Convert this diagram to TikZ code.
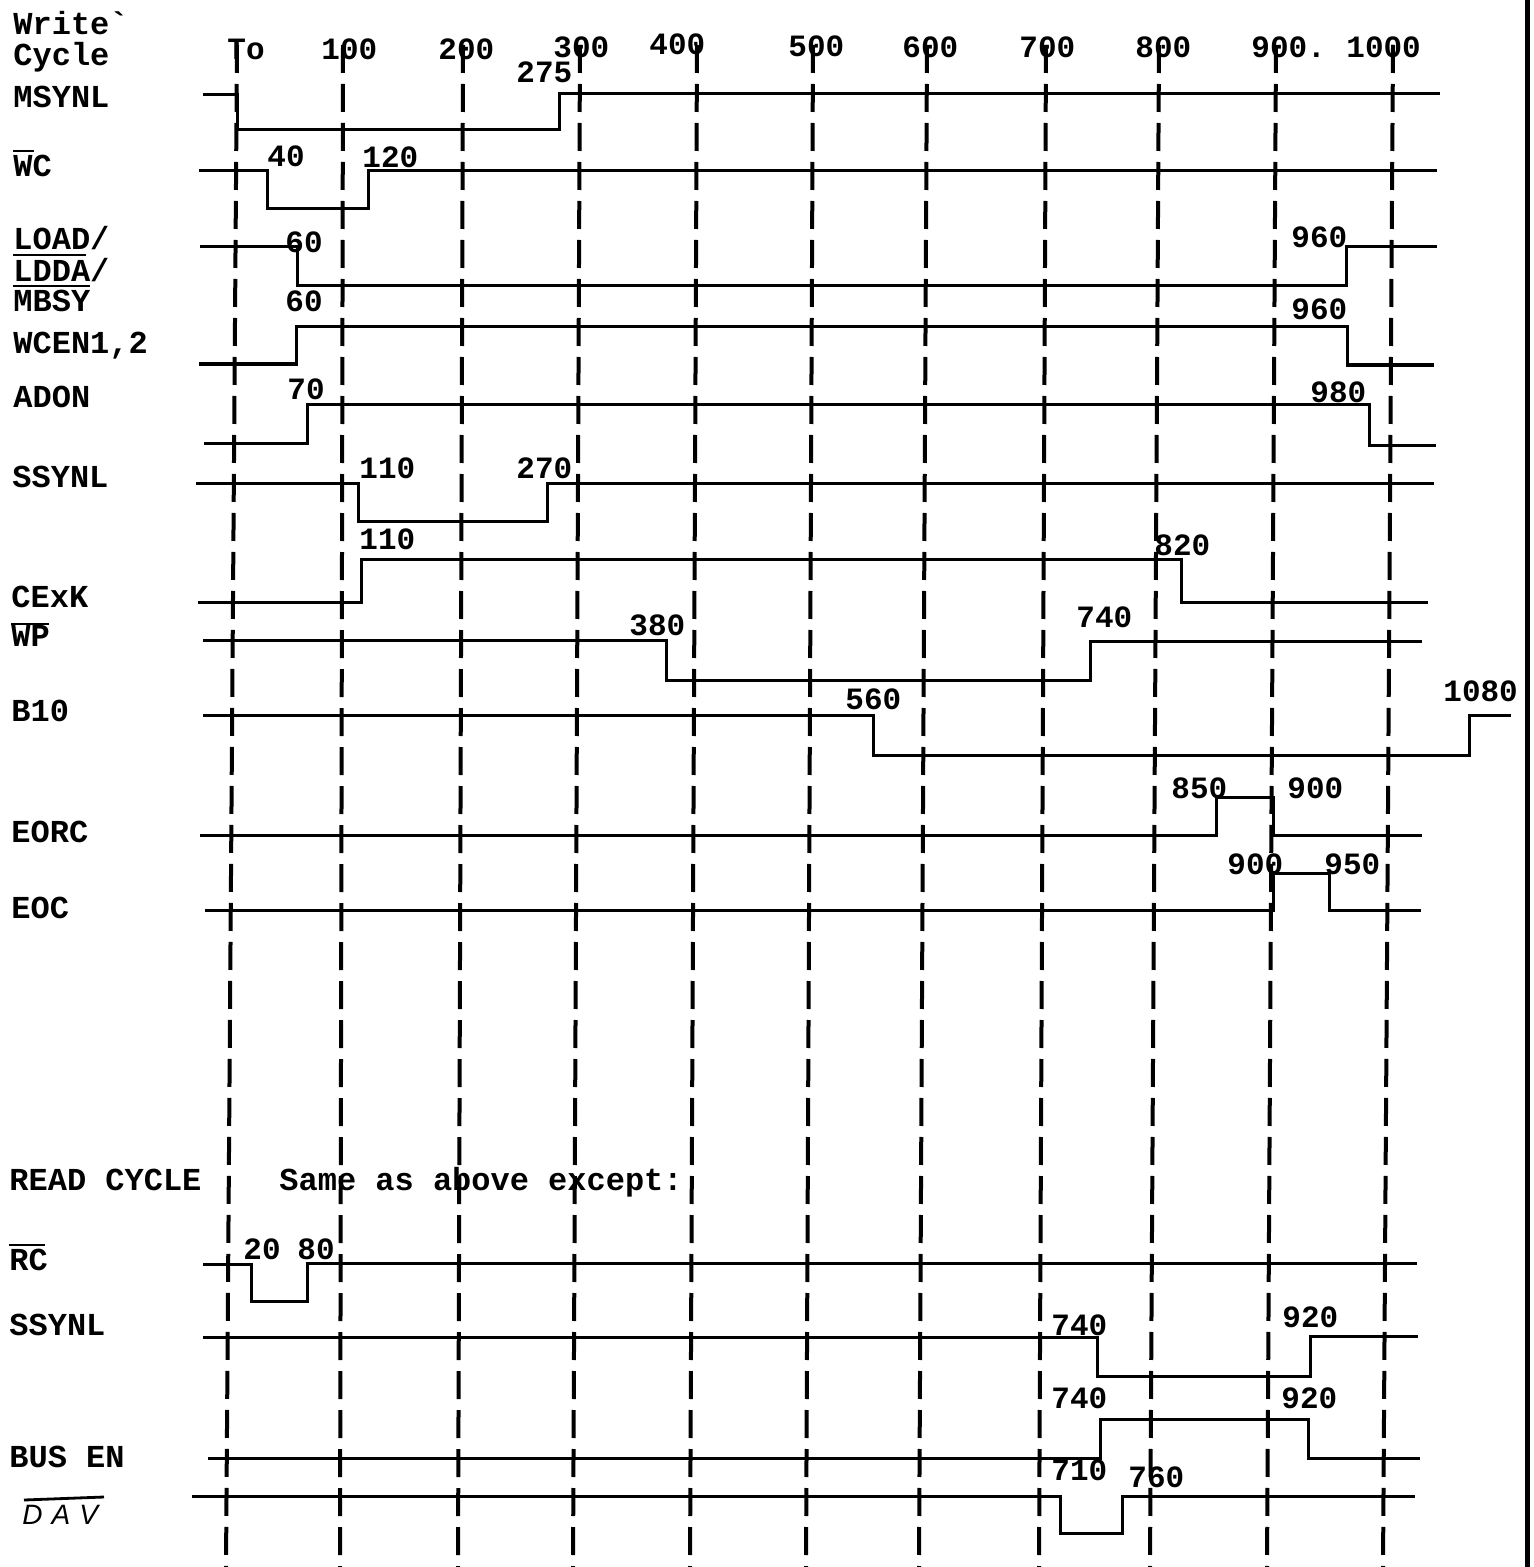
\documentclass[tikz,border=0pt]{standalone}
\usepackage{fontspec}
\setmonofont{Liberation Mono}
\newfontfamily\handfont{Liberation Sans}
\newcommand\lblfont{\ttfamily\bfseries\fontsize{16}{18}\selectfont}
\newcommand\numfont{\ttfamily\bfseries\fontsize{15.5}{18}\selectfont}
\begin{document}
\begin{tikzpicture}[x=0.5pt,y=-0.5pt,
  sig/.style={line width=1.5pt,line join=miter},
  gridline/.style={line width=2pt,dash pattern=on 14pt off 5.5pt},
  bar/.style={line width=1.4pt},
  lbl/.style={anchor=base west,inner sep=0pt,font=\lblfont},
  num/.style={anchor=base west,inner sep=0pt,font=\numfont}]
\useasboundingbox (0,0) rectangle (1533,1567);
% time grid
\foreach \xt/\xb [count=\i] in {237/226,343/340,463/458,580/573,697/690,813/806,927/919,1046/1039,1159/1150,1276/1267,1393/1383}
  \draw[gridline] (\xt,45) -- (\xb,1567);
% page edge
\draw[line width=2.5pt] (1527,0) -- (1527,1567);
% axis labels
\node[num] (ax0) at (227,60) {To};
\node[num] (ax1) at (321,60) {100};
\node[num] (ax2) at (438,60) {200};
\node[num] (ax3) at (553,58) {300};
\node[num] (ax275) at (516,83) {275};
\node[num] (ax4) at (649,55) {400};
\node[num] (ax5) at (788,57) {500};
\node[num] (ax6) at (902,58) {600};
\node[num] (ax7) at (1019,58) {700};
\node[num] (ax8) at (1135,58) {800};
\node[num] (ax9) at (1251,58) {900.};
\node[num] (ax10) at (1346,58) {1000};
% left labels
\node[lbl] (lw) at (13,35) {Write{\char96}};
\node[lbl] (lc) at (13,66) {Cycle};
\node[lbl] (l1) at (13,108) {MSYNL};
\node[lbl] (l2) at (13,177) {WC};
\draw[bar] (13,151) -- (34,151);
\node[lbl] (l3a) at (13,250) {LOAD/};
\draw[bar] (13,255) -- (86,255);
\node[lbl] (l3b) at (13,282) {LDDA/};
\draw[bar] (13,286) -- (90,286);
\node[lbl] (l3c) at (13,312) {MBSY};
\node[lbl] (l4) at (13,353) {WCEN1,2};
\node[lbl] (l5) at (13,408) {ADON};
\node[lbl] (l6) at (12,487) {SSYNL};
\node[lbl] (l7) at (11,607) {CExK};
\node[lbl] (l8) at (11,646) {WP};
\draw[bar] (11,624) -- (49,624);
\node[lbl] (l9) at (11,721) {B10};
\node[lbl] (l10) at (11,842) {EORC};
\node[lbl] (l11) at (11,918) {EOC};
\node[lbl] (lr) at (9,1190) {READ CYCLE};
\node[lbl] (ls) at (279,1190) {Same as above except:};
\node[lbl] (l12) at (9,1270) {RC};
\draw[bar] (9,1245) -- (45,1245);
\node[lbl] (l13) at (9,1335) {SSYNL};
\node[lbl] (l14) at (9,1467) {BUS EN};
\node[anchor=base west,inner sep=0pt,font=\handfont\itshape\fontsize{14}{16}\selectfont] (l15) at (22,1524) {D\hspace{4.5pt}A\hspace{4.5pt}V};
\draw[bar] (24,1500) -- (104,1497);
% signals
\draw[sig] (203,95) -- (237,95) -- (237,130) -- (559,130) -- (559,94) -- (1440,94);
\draw[sig] (199,171) -- (267,171) -- (267,209) -- (368,209) -- (368,171) -- (1437,171);
\draw[sig] (200,247) -- (297,247) -- (297,286) -- (1346,286) -- (1346,247) -- (1437,247);
\draw[sig] (199,364) -- (296,364) -- (296,327) -- (1347,327) -- (1347,365) -- (1434,365);
\draw[sig] (204,443) -- (307,443) -- (307,404) -- (1369,404) -- (1369,445) -- (1436,445);
\draw[sig] (196,483) -- (358,483) -- (358,521) -- (547,521) -- (547,483) -- (1434,483);
\draw[sig] (198,602) -- (361,602) -- (361,559) -- (1181,559) -- (1181,602) -- (1428,602);
\draw[sig] (203,640) -- (666,640) -- (666,680) -- (1090,680) -- (1090,641) -- (1422,641);
\draw[sig] (203,715) -- (873,715) -- (873,755) -- (1469,755) -- (1469,715) -- (1511,715);
\draw[sig] (200,835) -- (1216,835) -- (1216,797) -- (1273,797) -- (1273,835) -- (1422,835);
\draw[sig] (205,910) -- (1273,910) -- (1273,873) -- (1329,873) -- (1329,910) -- (1421,910);
\draw[sig] (203,1264) -- (251,1264) -- (251,1301) -- (307,1301) -- (307,1263) -- (1417,1263);
\draw[sig] (203,1337) -- (1097,1337) -- (1097,1376) -- (1310,1376) -- (1310,1336) -- (1418,1336);
\draw[sig] (208,1458) -- (1100,1458) -- (1100,1419) -- (1308,1419) -- (1308,1458) -- (1420,1458);
\draw[sig] (192,1496) -- (1060,1496) -- (1060,1533) -- (1122,1533) -- (1122,1496) -- (1415,1496);
% edge times
\node[num] (n40) at (267,167) {40};
\node[num] (n120) at (362,168) {120};
\node[num] (n60a) at (285,253) {60};
\node[num] (n960a) at (1291,248) {960};
\node[num] (n60b) at (285,312) {60};
\node[num] (n960b) at (1291,320) {960};
\node[num] (n70) at (287,400) {70};
\node[num] (n980) at (1310,402) {980};
\node[num] (n110a) at (359,478) {110};
\node[num] (n270) at (516,478) {270};
\node[num] (n110b) at (359,549) {110};
\node[num] (n820) at (1154,555) {820};
\node[num] (n380) at (629,635) {380};
\node[num] (n740a) at (1076,627) {740};
\node[num] (n560) at (845,709) {560};
\node[num] (n1080) at (1443,701) {1080};
\node[num] (n850) at (1171,798) {850};
\node[num] (n900a) at (1287,798) {900};
\node[num] (n900b) at (1227,874) {900};
\node[num] (n950) at (1324,874) {950};
\node[num] (n20) at (243,1259) {20};
\node[num] (n80) at (297,1259) {80};
\node[num] (n740b) at (1051,1335) {740};
\node[num] (n920a) at (1282,1327) {920};
\node[num] (n740c) at (1051,1408) {740};
\node[num] (n920b) at (1281,1408) {920};
\node[num] (n710) at (1051,1480) {710};
\node[num] (n760) at (1128,1487) {760};
\end{tikzpicture}
\end{document}
